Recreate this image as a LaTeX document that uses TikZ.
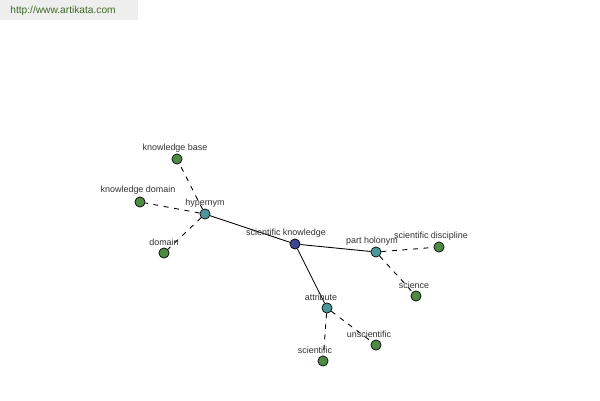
\documentclass[tikz,border=0pt]{standalone}
\usepackage{fontspec}
\setmainfont{Liberation Sans}
\definecolor{leafgreen}{HTML}{4E8A40}
\definecolor{midteal}{HTML}{4A9898}
\definecolor{rootblue}{HTML}{3C4592}
\definecolor{hdrgray}{HTML}{EEEEEE}
\definecolor{hdrtext}{HTML}{3F6A24}
\definecolor{lbl}{HTML}{333333}
\tikzset{
  dot/.style={circle,draw=black,line width=0.4pt,minimum size=5.8pt,inner sep=0pt},
  leaf/.style={dot,fill=leafgreen},
  mid/.style={dot,fill=midteal},
  root/.style={dot,fill=rootblue},
  lab/.style={font=\fontsize{5.1}{5.8}\selectfont,text=lbl,inner sep=0pt},
  solidlink/.style={draw=black,line width=0.5pt},
  dashlink/.style={draw=black,line width=0.5pt,dash pattern=on 2.8pt off 3.2pt}
}
\begin{document}
\begin{tikzpicture}[x=0.02cm,y=-0.02cm]
\useasboundingbox[fill=white] (0,0) rectangle (600,400);
\fill[hdrgray] (0,0) rectangle (138,20);
\node[font=\fontsize{5.8}{7}\selectfont,text=hdrtext,inner sep=0pt,anchor=west] (hdr) at (10,11) {http://www.artikata.com};
% nodes
\node[root] (sk) at (295,244) {};
\node[mid] (hy) at (205,214) {};
\node[mid] (ph) at (376,252) {};
\node[mid] (at) at (327,308) {};
\node[leaf] (kb) at (177,159) {};
\node[leaf] (kd) at (140,202) {};
\node[leaf] (dm) at (164,253) {};
\node[leaf] (sd) at (439,247) {};
\node[leaf] (sc) at (416,296) {};
\node[leaf] (us) at (376,345) {};
\node[leaf] (si) at (323,361) {};
% links
\draw[solidlink] (sk) -- (hy);
\draw[solidlink] (sk) -- (ph);
\draw[solidlink] (sk) -- (at);
\draw[dashlink] (hy) -- (kb);
\draw[dashlink] (hy) -- (kd);
\draw[dashlink] (hy) -- (dm);
\draw[dashlink] (ph) -- (sd);
\draw[dashlink] (ph) -- (sc);
\draw[dashlink] (at) -- (us);
\draw[dashlink] (at) -- (si);
% labels
\node[lab] (lsk) at (286,233) {scientific knowledge};
\node[lab] (lhy) at (205,203) {hypernym};
\node[lab] (lph) at (372,241) {part holonym};
\node[lab] (lat) at (321,297) {attribute};
\node[lab] (lkb) at (175,148) {knowledge base};
\node[lab] (lkd) at (138,190) {knowledge domain};
\node[lab] (ldm) at (164,242) {domain};
\node[lab] (lsd) at (431,236) {scientific discipline};
\node[lab] (lsc) at (414,285) {science};
\node[lab] (lus) at (369,334) {unscientific};
\node[lab] (lsi) at (315,350) {scientific};
\end{tikzpicture}
\end{document}
